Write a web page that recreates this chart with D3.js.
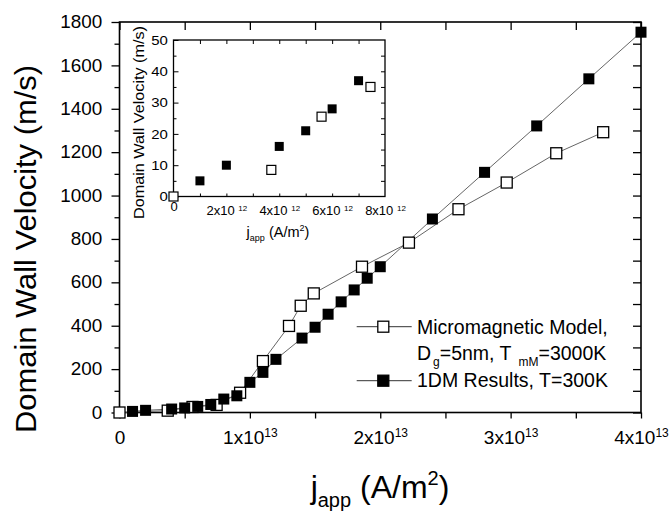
<!DOCTYPE html>
<html>
<head>
<meta charset="utf-8">
<script src="https://cdn.jsdelivr.net/npm/d3@7"></script>
<style>
body { margin: 0; background: #fff; }
text { font-family: "Liberation Sans", Arial, sans-serif; fill: #000; }
</style>
</head>
<body>
<svg id="chart" width="671" height="515"></svg>
<script>
// j_app in units of 1e13 A/m^2, velocity in m/s
var mmX = [0, 0.37, 0.56, 0.745, 0.925, 1.1, 1.3, 1.39, 1.49, 1.86, 2.22, 2.6, 2.97, 3.35, 3.71];
var mmV = [0, 8.5, 25.5, 35, 91, 237, 399, 492, 549, 672, 783, 937, 1060, 1195, 1292];

var odX = [0.1, 0.2, 0.4, 0.5, 0.6, 0.7, 0.8, 0.9, 1.0, 1.1, 1.2, 1.4, 1.5, 1.6, 1.7, 1.8, 1.9, 2.0, 2.4, 2.8, 3.2, 3.6, 4.0];
var odV = [5, 10, 16, 21, 28, 37, 62, 77, 139, 185, 245, 343, 393, 453, 510, 565, 619, 672, 892, 1107, 1321, 1538, 1753];

// tick labels
var mainXTicks = [0, 1, 2, 3, 4];          // x10^13
var mainYTicks = [0, 200, 400, 600, 800, 1000, 1200, 1400, 1600, 1800];
var insetXTicks = [0, 2, 4, 6, 8];         // x10^12
var insetYTicks = [0, 10, 20, 30, 40, 50];

var mm = mmX.map(function(d, i) { return {x: d, v: mmV[i]}; });
var od = odX.map(function(d, i) { return {x: d, v: odV[i]}; });

var svg = d3.select("#chart");

// ---------- main plot ----------
var x = d3.scaleLinear().domain([0, 4]).range([119.5, 641]);
var y = d3.scaleLinear().domain([0, 1800]).range([412.5, 22]);

function clean(g) { g.select(".domain").remove(); g.selectAll("line").attr("stroke", "#000").attr("stroke-width", 1.3); }

svg.append("g").attr("transform", "translate(" + x(0) + ",0)")
    .call(d3.axisLeft(y).tickValues(mainYTicks).tickSize(8).tickPadding(8).tickFormat(d3.format("d")))
    .call(clean)
    .selectAll("text").style("font-size", "17.5px").attr("transform", "scale(1.08,1)");

svg.append("g").attr("transform", "translate(" + x(0) + ",0)")
    .call(d3.axisLeft(y).tickValues(d3.range(100, 1800, 200)).tickSize(5).tickFormat(""))
    .call(clean);

svg.append("g").attr("transform", "translate(" + x(4) + ",0)")
    .call(d3.axisRight(y).tickValues(d3.range(0, 1801, 100)).tickSize(-8).tickFormat(""))
    .call(clean);

svg.append("g").attr("transform", "translate(0," + y(1800) + ")")
    .call(d3.axisTop(x).tickValues(d3.range(0, 4.01, 0.5)).tickSize(-8).tickFormat(""))
    .call(clean);

var xAx = svg.append("g").attr("transform", "translate(0," + y(0) + ")")
    .call(d3.axisBottom(x).tickValues(d3.range(0, 4.01, 0.5)).tickSize(6).tickPadding(12)
        .tickFormat(function(d) { return mainXTicks.indexOf(d) >= 0 ? d : ""; }))
    .call(clean);

xAx.selectAll(".tick text").style("font-size", "19px").each(function(d) {
    var t = d3.select(this);
    if (mainXTicks.indexOf(d) < 0 || d === 0) return;
    t.text(d + "x10");
    t.append("tspan").attr("dy", "-0.55em").style("font-size", "12px").text("13");
});

// frame
svg.append("rect")
    .attr("x", x(0)).attr("y", y(1800))
    .attr("width", x(4) - x(0)).attr("height", y(0) - y(1800))
    .attr("fill", "none").attr("stroke", "#000").attr("stroke-width", 1.6);

var line = d3.line().x(function(d) { return x(d.x); }).y(function(d) { return y(d.v); });

svg.append("path").datum(mm).attr("d", line)
    .attr("fill", "none").attr("stroke", "#666").attr("stroke-width", 1);
svg.append("path").datum(od).attr("d", line)
    .attr("fill", "none").attr("stroke", "#666").attr("stroke-width", 1);

var ms = 11;
svg.append("g").selectAll("rect").data(mm).enter().append("rect")
    .attr("x", function(d) { return x(d.x) - ms / 2; })
    .attr("y", function(d) { return y(d.v) - ms / 2; })
    .attr("width", ms).attr("height", ms)
    .attr("fill", "#fff").attr("stroke", "#000").attr("stroke-width", 1.3);

svg.append("g").selectAll("rect").data(od).enter().append("rect")
    .attr("x", function(d) { return x(d.x) - ms / 2; })
    .attr("y", function(d) { return y(d.v) - ms / 2; })
    .attr("width", ms).attr("height", ms)
    .attr("fill", "#000");

// axis titles
svg.append("text")
    .attr("transform", "translate(36,249) rotate(-90)")
    .attr("text-anchor", "middle")
    .attr("textLength", 368).attr("lengthAdjust", "spacingAndGlyphs")
    .style("font-size", "29px")
    .text("Domain Wall Velocity (m/s)");

var xt = svg.append("text")
    .attr("x", 380).attr("y", 498)
    .attr("text-anchor", "middle")
    .style("font-size", "32px");
xt.append("tspan").text("j");
xt.append("tspan").attr("dy", 9).style("font-size", "20px").text("app");
xt.append("tspan").attr("dy", -9).text(" (A/m");
xt.append("tspan").attr("dy", -13).style("font-size", "20px").text("2");
xt.append("tspan").attr("dy", 13).text(")");

// legend
var lg = svg.append("g");
[[326.7, "open"], [380.7, "filled"]].forEach(function(r) {
    lg.append("line").attr("x1", 356.7).attr("x2", 411.7).attr("y1", r[0]).attr("y2", r[0])
        .attr("stroke", "#333").attr("stroke-width", 1);
    lg.append("rect").attr("x", 383.3 - ms / 2).attr("y", r[0] - ms / 2)
        .attr("width", ms).attr("height", ms)
        .attr("fill", r[1] === "open" ? "#fff" : "#000")
        .attr("stroke", "#000").attr("stroke-width", 1.3);
});
lg.append("text").attr("x", 417).attr("y", 333.5).style("font-size", "19.5px").text("Micromagnetic Model,");
var l2 = lg.append("text").attr("x", 417).attr("y", 360).style("font-size", "19.5px");
l2.append("tspan").text("D");
l2.append("tspan").attr("dx", 2).attr("dy", 6).style("font-size", "12px").text("g");
l2.append("tspan").attr("dy", -6).text("=5nm, T");
l2.append("tspan").attr("dx", 7).attr("dy", 6).style("font-size", "12px").text("mM");
l2.append("tspan").attr("dy", -6).text("=3000K");
lg.append("text").attr("x", 417).attr("y", 387.3).style("font-size", "19.5px").text("1DM Results, T=300K");

// ---------- inset ----------
var xi = d3.scaleLinear().domain([0, 8]).range([173.5, 385]);
var yi = d3.scaleLinear().domain([0, 50]).range([196.5, 40]);

svg.append("rect")
    .attr("x", xi(0)).attr("y", yi(50))
    .attr("width", xi(8) - xi(0)).attr("height", yi(0) - yi(50))
    .attr("fill", "#fff").attr("stroke", "#000").attr("stroke-width", 1.3);

function thin(g) { g.select(".domain").remove(); g.selectAll("line").attr("stroke", "#000").attr("stroke-width", 1); }

svg.append("g").attr("transform", "translate(" + xi(0) + ",0)")
    .call(d3.axisLeft(yi).tickValues(insetYTicks).tickSize(-5).tickPadding(5))
    .call(thin)
    .selectAll("text").style("font-size", "13px").attr("transform", "scale(1.15,1)");
svg.append("g").attr("transform", "translate(" + xi(0) + ",0)")
    .call(d3.axisLeft(yi).tickValues(d3.range(5, 50, 10)).tickSize(-3).tickFormat(""))
    .call(thin);
svg.append("g").attr("transform", "translate(" + xi(8) + ",0)")
    .call(d3.axisRight(yi).tickValues(d3.range(5, 50, 5)).tickSize(-4).tickFormat(""))
    .call(thin);
svg.append("g").attr("transform", "translate(0," + yi(50) + ")")
    .call(d3.axisTop(xi).tickValues(d3.range(1, 8, 1)).tickSize(-4).tickFormat(""))
    .call(thin);

var xiAx = svg.append("g").attr("transform", "translate(0," + yi(0) + ")")
    .call(d3.axisBottom(xi).tickValues(insetXTicks).tickSize(0).tickPadding(9))
    .call(thin);
svg.append("g").attr("transform", "translate(0," + yi(0) + ")")
    .call(d3.axisBottom(xi).tickValues(d3.range(1, 8, 1)).tickSize(-3).tickFormat(""))
    .call(thin);

xiAx.selectAll(".tick text").style("font-size", "13px").each(function(d) {
    var t = d3.select(this);
    if (d === 0) { t.attr("dy", "0.45em"); return; }
    t.text(d + "x10 ");
    t.append("tspan").attr("dy", "-0.5em").style("font-size", "8px").text("12");
});

var is = 9;
var mmIn = mm.filter(function(d) { return d.x < 0.8; });
var odIn = od.filter(function(d) { return d.x < 0.8; });

svg.append("g").selectAll("rect").data(mmIn).enter().append("rect")
    .attr("x", function(d) { return xi(d.x * 10) - is / 2; })
    .attr("y", function(d) { return yi(d.v) - is / 2; })
    .attr("width", is).attr("height", is)
    .attr("fill", "#fff").attr("stroke", "#000").attr("stroke-width", 1.2);

svg.append("g").selectAll("rect").data(odIn).enter().append("rect")
    .attr("x", function(d) { return xi(d.x * 10) - is / 2; })
    .attr("y", function(d) { return yi(d.v) - is / 2; })
    .attr("width", is).attr("height", is)
    .attr("fill", "#000");

svg.append("text")
    .attr("transform", "translate(144,122.5) rotate(-90)")
    .attr("text-anchor", "middle")
    .attr("textLength", 193).attr("lengthAdjust", "spacingAndGlyphs")
    .style("font-size", "14.5px")
    .text("Domain Wall Velocity (m/s)");

var xit = svg.append("text")
    .attr("x", 278).attr("y", 237)
    .attr("text-anchor", "middle")
    .style("font-size", "14.5px");
xit.append("tspan").text("j");
xit.append("tspan").attr("dy", 4).style("font-size", "9px").text("app");
xit.append("tspan").attr("dy", -4).text(" (A/m");
xit.append("tspan").attr("dy", -6).style("font-size", "9px").text("2");
xit.append("tspan").attr("dy", 6).text(")");
</script>
</body>
</html>
